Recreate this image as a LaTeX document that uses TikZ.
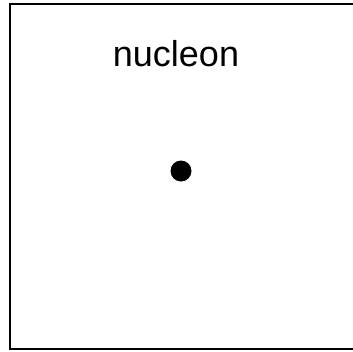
\documentclass[tikz,border=0pt]{standalone}
\usepackage{fontspec}
\setmainfont{Liberation Sans}
\usetikzlibrary{positioning}
\tikzset{
  frame/.style={draw=black, line width=2pt},
  label/.style={font=\fontsize{36}{43}\selectfont, inner sep=0pt, anchor=base},
  particle/.style={circle, fill=black, minimum size=21pt, inner sep=0pt}
}
\begin{document}
\begin{tikzpicture}[x=1pt, y=-1pt]
  % canvas, 353 x 351
  \useasboundingbox (0,0) rectangle (353,351);
  \clip (0,0) rectangle (353,351);
  % box (right side runs off the canvas)
  \draw[frame] (10,4) rectangle (362,349);
  % title and point
  \node[label] (title) at (176,66) {nucleon};
  \node[particle] (dot) at (181,171) {};
\end{tikzpicture}
\end{document}
